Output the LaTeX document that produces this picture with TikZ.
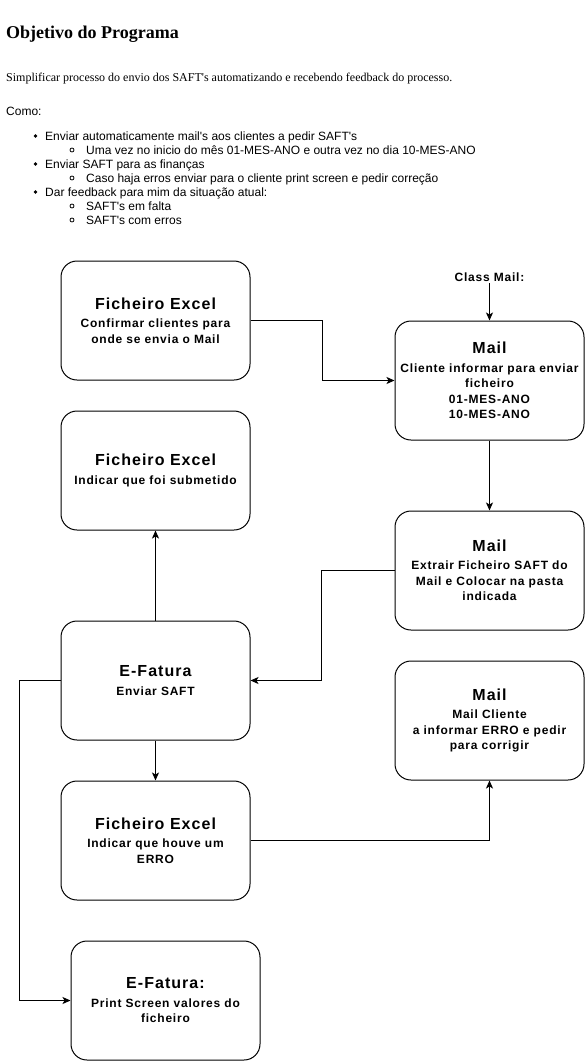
\documentclass[tikz,border=0pt]{standalone}
\usepackage{fontspec}
\setmainfont{Liberation Sans}[Ligatures=TeXOff]
\newfontfamily\serifx{Liberation Serif}[Ligatures=TeXOff]
\newfontfamily\boxfont{Liberation Sans}[Ligatures=TeXOff, LetterSpace=6.5]
\usetikzlibrary{arrows.meta}
\tikzset{
  box/.style={draw, line width=1pt, rounded corners=16pt, minimum width=189pt, minimum height=119pt,
    align=center, inner sep=0pt, font=\boxfont\bfseries\fontsize{12}{15.5}\selectfont},
  conn/.style={draw, line width=1pt, -{Stealth[length=8pt,width=7pt,inset=2pt]}},
  txt/.style={anchor=base west, inner sep=0pt, font=\fontsize{12}{14}\selectfont},
}
\newcommand\btitle[1]{{\fontsize{16}{19}\selectfont #1}\\[3pt]}
\begin{document}
\begin{tikzpicture}[x=1pt,y=-1pt]
\useasboundingbox[fill=white] (0,0) rectangle (585,1061);
% header text
\node[anchor=base west, inner sep=0pt, font=\serifx\bfseries\fontsize{18}{20}\selectfont] (title) at (6,38) {Objetivo do Programa};
\node[anchor=base west, inner sep=0pt, font=\serifx\fontsize{12}{14}\selectfont] (simp) at (6,81) {Simplificar processo do envio dos SAFT's automatizando e recebendo feedback do processo.};
\node[txt] (como) at (6,115) {Como:};
\node[txt] (l1) at (45,140) {Enviar automaticamente mail's aos clientes a pedir SAFT's};
\node[txt] (l1a) at (86,154) {Uma vez no inicio do mês 01-MES-ANO e outra vez no dia 10-MES-ANO};
\node[txt] (l2) at (45,168) {Enviar SAFT para as finanças};
\node[txt] (l2a) at (86,182) {Caso haja erros enviar para o cliente print screen e pedir correção};
\node[txt] (l3) at (45,196) {Dar feedback para mim da situação atual:};
\node[txt] (l3a) at (86,210) {SAFT's em falta};
\node[txt] (l3b) at (86,224) {SAFT's com erros};
\foreach \yy in {136,164,192} \fill (35.5,\yy) circle (1.8);
\foreach \yy in {150,178,206,220} \draw[line width=0.8pt] (72,\yy) circle (2);
% boxes
\node[box] (b1) at (155.5,320.5) {\btitle{Ficheiro Excel}Confirmar clientes para\\onde se envia o Mail};
\node[box] (b2) at (489.5,380.5) {\btitle{Mail}Cliente informar para enviar\\ficheiro\\01-MES-ANO\\10-MES-ANO};
\node[box] (b3) at (155.5,470.5) {\btitle{Ficheiro Excel}Indicar que foi submetido};
\node[box] (b4) at (489.5,570.5) {\btitle{Mail}Extrair Ficheiro SAFT do\\Mail e Colocar na pasta\\indicada};
\node[box] (b5) at (155.5,680.5) {\btitle{E-Fatura}Enviar SAFT};
\node[box] (b6) at (489.5,720.5) {\btitle{Mail}Mail Cliente\\a informar ERRO e pedir\\para corrigir};
\node[box] (b7) at (155.5,840.5) {\btitle{Ficheiro Excel}Indicar que houve um\\ERRO};
\node[box] (b8) at (165.5,1000.5) {\btitle{E-Fatura:}Print Screen valores do\\ficheiro};
% class mail
\node[anchor=base, inner sep=0pt, font=\boxfont\bfseries\fontsize{12}{14}\selectfont] (cmt) at (489.5,281) {Class Mail:};
\coordinate (cm) at (489.5,283);
% connectors
\draw[conn] (b1.east) -- ++(72,0) |- (b2.west);
\draw[conn] (cm) -- (b2.north);
\draw[conn] (b2.south) -- (b4.north);
\draw[conn] (b4.west) -- ++(-73,0) |- (b5.east);
\draw[conn] (b5.north) -- (b3.south);
\draw[conn] (b5.south) -- (b7.north);
\draw[conn] (b5.west) -- ++(-41,0) |- (b8.west);
\draw[conn] (b7.east) -| (b6.south);
\end{tikzpicture}
\end{document}
